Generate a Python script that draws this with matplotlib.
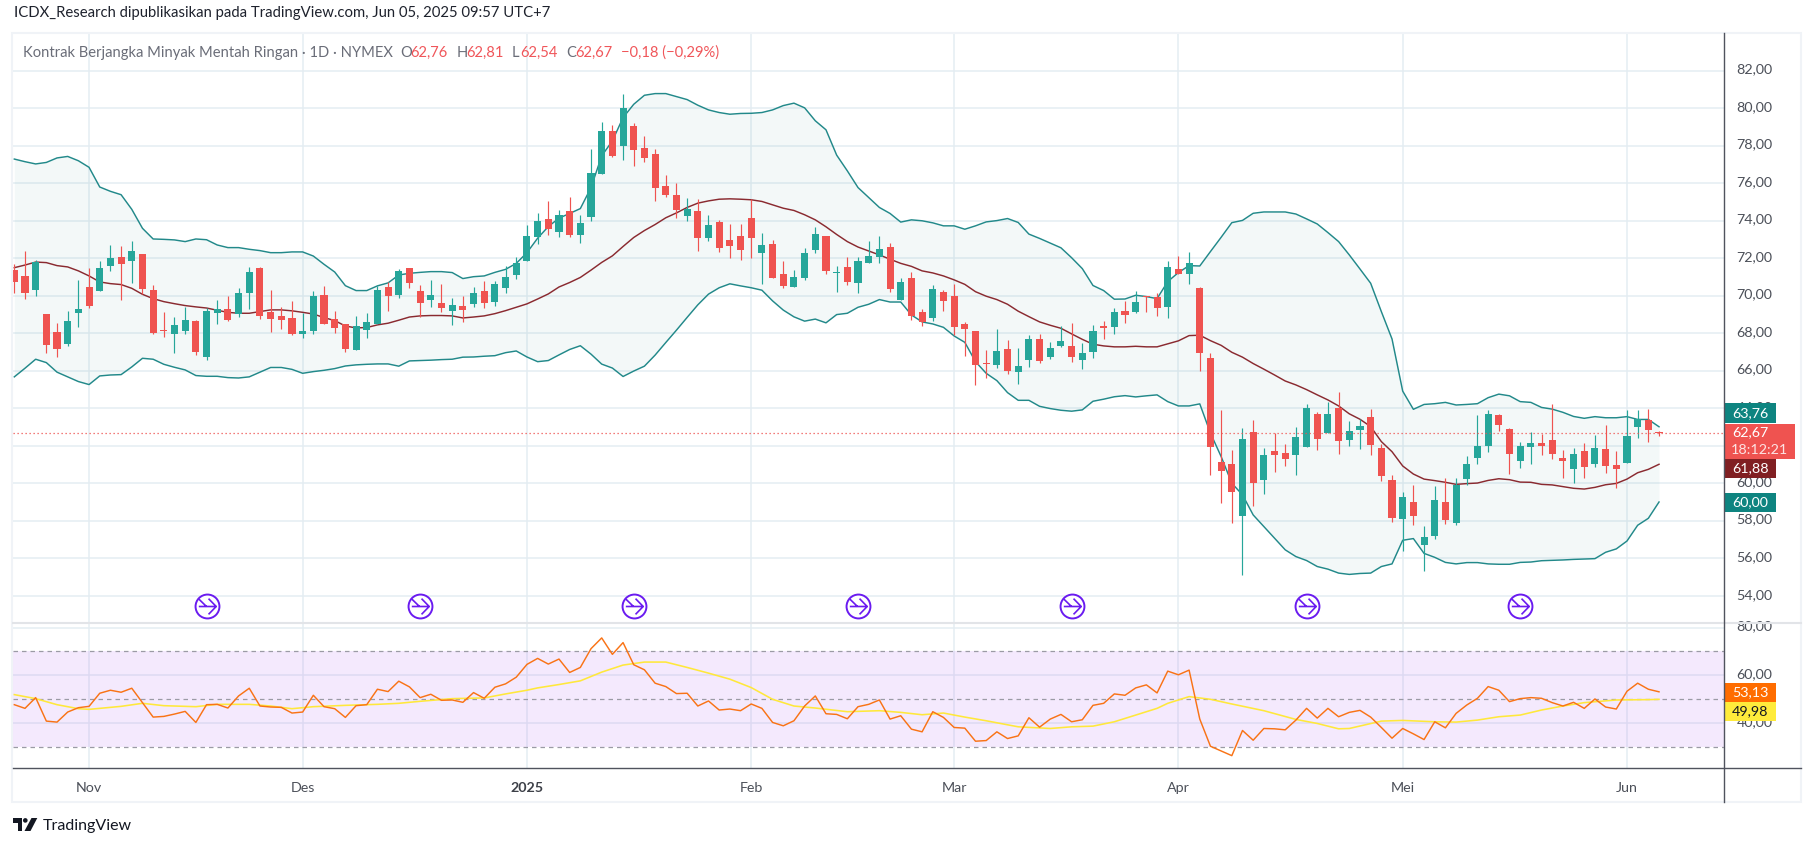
import matplotlib
matplotlib.use("Agg")
import matplotlib.pyplot as plt
from matplotlib.transforms import Affine2D, ScaledTranslation
from matplotlib.patches import Rectangle, Polygon, Circle
from matplotlib.lines import Line2D
from matplotlib.path import Path

W, H = 1814, 847
FONT = ["Lato", "DejaVu Sans"]
plt.rcParams["font.family"] = FONT

opens = [71.36,71.04,70.30,69.02,68.06,67.42,69.07,70.45,70.24,71.57,
72.05,71.84,72.21,70.30,68.16,67.95,68.11,68.64,66.73,69.07,
69.28,69.02,70.14,71.47,69.12,68.91,68.82,67.97,68.13,70.05,
68.77,68.50,67.12,68.18,68.50,70.47,70.05,71.48,70.26,69.78,
69.62,69.19,69.46,69.57,70.26,69.67,70.42,71.11,71.86,73.14,
74.10,73.38,74.53,73.25,74.21,76.50,78.79,78.00,79.06,77.89,
77.57,75.86,75.38,74.26,74.53,73.09,73.94,72.98,73.20,74.16,
72.29,72.77,71.17,70.48,70.96,72.45,73.20,71.23,71.54,70.69,
71.75,72.07,72.60,69.78,70.95,69.14,68.82,70.21,69.99,68.50,
68.13,66.42,66.32,67.17,65.94,66.58,67.70,66.74,67.33,67.33,
66.58,67.01,68.39,68.34,69.19,69.14,69.99,69.94,69.41,71.43,
71.17,70.42,66.69,61.15,61.04,58.27,62.75,60.19,61.73,61.63,
61.52,61.95,63.71,62.69,64.03,62.32,62.85,63.55,61.89,60.18,
58.10,59.01,56.72,57.20,59.01,57.89,60.23,61.35,61.99,63.64,
62.90,61.19,61.94,62.15,62.31,61.35,60.77,61.73,61.03,61.83,
60.98,61.09,63.01,63.38,62.76]
closes = [70.72,70.14,71.82,67.38,67.15,68.64,69.28,69.44,71.47,72.00,
71.68,72.37,70.35,68.00,68.11,68.43,68.70,66.99,69.18,69.28,
68.70,70.14,71.25,68.91,68.75,68.70,67.97,68.13,69.99,68.50,
68.29,67.17,68.39,68.61,70.31,69.99,71.33,70.69,69.62,70.05,
69.35,69.51,69.25,70.15,69.62,70.63,71.01,71.75,73.19,73.99,
73.56,74.31,73.25,73.89,76.55,78.79,77.46,80.02,77.78,77.35,
75.76,75.38,74.58,74.64,73.09,73.78,72.56,72.67,72.45,73.09,
72.72,70.96,70.53,71.01,72.29,73.30,71.33,71.28,70.74,71.86,
72.12,72.50,70.37,70.74,68.93,68.61,70.37,69.73,68.34,68.23,
66.32,66.37,67.06,66.00,66.26,67.70,66.53,67.22,67.60,66.74,
66.96,68.13,68.29,69.14,68.98,69.67,69.94,69.35,71.54,71.17,
71.75,66.96,61.95,60.67,59.55,62.37,60.03,61.52,61.52,61.31,
62.49,64.03,62.37,63.71,62.27,62.80,63.07,62.05,60.40,58.16,
59.28,58.26,57.14,59.12,58.05,59.92,61.03,61.99,63.70,63.11,
61.57,61.99,62.15,61.99,61.57,61.19,61.57,60.87,61.89,60.93,
60.77,62.53,63.43,62.85,62.67]
highs = [71.72,72.37,71.93,69.02,68.54,69.18,70.83,71.47,71.84,72.69,
72.64,72.91,72.25,70.56,69.12,68.86,69.41,68.70,69.35,69.76,
69.98,70.40,71.52,71.52,70.30,69.39,69.73,69.07,70.26,70.53,
69.19,68.50,68.93,69.09,70.53,70.72,71.43,71.48,70.58,70.85,
70.63,69.89,69.99,70.47,70.79,70.77,71.59,72.05,73.78,74.40,
75.06,74.58,75.28,74.32,77.83,79.27,79.11,80.76,79.22,78.53,
77.83,76.45,76.02,75.22,75.17,74.32,74.05,73.84,73.84,75.17,
73.36,72.98,71.87,71.39,72.56,73.68,73.20,71.60,72.07,72.07,
72.92,73.19,72.82,70.95,71.27,69.30,70.58,70.31,70.63,68.61,
68.13,67.12,68.23,67.65,67.22,67.92,67.97,67.54,68.39,68.55,
67.49,68.45,68.66,69.35,69.73,70.26,69.99,70.15,71.86,72.12,
72.34,70.47,66.96,63.92,61.79,62.96,63.39,61.89,62.69,62.11,
63.02,64.24,63.81,64.35,64.88,63.34,63.42,63.98,62.11,60.45,
59.54,59.92,57.73,59.86,60.29,60.29,61.46,63.64,63.91,63.70,
62.95,62.21,62.74,62.63,64.23,61.78,61.89,62.15,62.58,63.11,
61.73,63.91,63.91,63.96,62.81]
lows = [70.14,69.83,69.99,66.94,66.73,67.31,68.32,69.35,70.24,71.31,
69.76,70.67,70.08,67.95,67.79,66.94,67.95,66.83,66.57,68.48,
68.64,68.86,69.28,68.75,68.06,68.22,67.92,67.76,67.97,68.50,
68.02,67.01,67.12,67.76,68.50,69.19,69.89,70.42,68.87,69.41,
69.14,68.45,68.61,69.41,69.35,69.46,70.15,70.90,71.86,72.76,
73.24,73.14,73.14,72.82,74.00,76.50,77.41,77.25,76.93,77.14,
75.06,75.28,74.16,74.00,72.40,72.93,72.35,72.03,71.92,72.03,
70.64,70.96,70.43,70.48,70.85,72.29,71.17,70.21,70.58,70.15,
71.75,71.75,70.21,69.78,68.71,68.39,68.66,69.19,67.92,66.80,
65.25,65.62,66.16,65.84,65.30,66.21,66.42,66.64,67.28,66.48,
66.10,66.69,67.70,67.97,68.55,69.09,69.14,68.93,68.82,71.17,
70.63,66.00,60.46,58.96,57.89,55.13,58.81,59.44,60.62,60.94,
60.46,61.95,61.79,62.69,61.57,62.00,61.84,61.52,60.14,57.94,
56.40,57.78,55.33,57.04,57.84,57.78,59.92,61.03,61.67,62.79,
60.50,60.82,61.03,61.51,61.30,60.29,60.02,60.29,60.87,60.55,
59.76,61.09,62.42,62.21,62.54]

bb_upper = [77.29,77.15,77.03,77.11,77.35,77.43,77.20,76.85,75.80,75.57,
75.39,74.61,73.60,73.03,73.01,72.98,72.89,73.03,72.99,72.71,
72.57,72.57,72.48,72.41,72.30,72.30,72.34,72.34,72.12,71.68,
71.27,70.54,70.28,70.28,70.53,70.69,71.11,71.20,71.25,71.29,
71.29,71.24,70.92,71.02,71.06,71.25,71.41,71.73,72.30,73.07,
73.69,74.14,74.39,74.65,75.77,77.46,78.26,79.50,80.21,80.69,
80.78,80.78,80.62,80.46,80.16,79.91,79.77,79.68,79.72,79.73,
79.77,79.91,80.14,80.27,80.02,79.33,78.85,77.50,76.66,75.77,
75.24,74.71,74.39,73.93,74.05,74.00,73.89,73.73,73.73,73.55,
73.73,73.94,74.01,74.12,73.91,73.29,73.06,72.81,72.56,72.03,
71.45,70.55,70.28,69.82,69.83,70.03,69.96,69.85,70.76,71.24,
71.61,71.59,72.36,73.12,73.90,74.02,74.40,74.47,74.47,74.47,
74.36,74.10,73.83,73.37,72.89,72.18,71.43,70.67,69.16,67.70,
64.92,63.95,64.21,64.25,64.32,64.18,64.21,64.25,64.57,64.76,
64.67,64.36,64.32,64.05,63.96,63.79,63.57,63.47,63.56,63.50,
63.50,63.56,63.41,63.41,63.02]
bb_middle = [71.50,71.64,71.80,71.77,71.61,71.54,71.33,71.06,70.74,70.65,
70.60,70.40,70.08,69.85,69.69,69.58,69.48,69.41,69.35,69.23,
69.12,69.07,69.07,69.16,69.25,69.25,69.20,69.12,69.03,68.84,
68.68,68.39,68.29,68.31,68.45,68.54,68.70,68.87,68.93,68.95,
68.95,68.93,68.82,68.87,68.93,69.05,69.21,69.39,69.57,69.83,
70.10,70.47,70.71,70.98,71.37,71.78,72.13,72.63,73.11,73.48,
73.80,74.16,74.42,74.71,74.94,75.06,75.15,75.17,75.15,75.12,
75.03,74.85,74.67,74.55,74.32,74.05,73.68,73.27,72.89,72.60,
72.39,72.18,71.95,71.73,71.57,71.33,71.22,71.06,70.85,70.61,
70.22,69.98,69.80,69.55,69.18,68.89,68.61,68.43,68.27,67.97,
67.68,67.42,67.33,67.28,67.28,67.31,67.28,67.28,67.44,67.60,
67.88,67.90,67.61,67.36,66.99,66.73,66.39,66.09,65.78,65.46,
65.25,65.00,64.72,64.45,64.13,63.71,63.42,63.03,62.23,61.69,
60.93,60.50,60.23,60.15,60.06,59.95,59.99,60.02,60.16,60.25,
60.20,60.07,60.06,59.95,59.92,59.83,59.74,59.70,59.79,59.93,
60.00,60.23,60.57,60.75,61.02]
bb_lower = [65.68,66.14,66.62,66.44,65.93,65.68,65.43,65.27,65.73,65.78,
65.80,66.21,66.67,66.62,66.35,66.19,66.05,65.75,65.71,65.71,
65.64,65.62,65.68,65.93,66.18,66.18,66.08,65.87,65.96,66.03,
66.12,66.26,66.32,66.35,66.37,66.37,66.25,66.53,66.55,66.57,
66.60,66.62,66.73,66.74,66.78,66.81,66.97,67.06,66.74,66.49,
66.55,66.85,67.14,67.34,66.89,66.36,66.15,65.70,65.99,66.25,
66.84,67.51,68.17,68.85,69.52,70.09,70.43,70.64,70.53,70.43,
70.30,69.73,69.24,68.88,68.65,68.76,68.56,69.00,69.07,69.39,
69.55,69.80,69.67,69.67,68.98,68.61,68.50,68.32,67.86,67.52,
66.49,65.87,65.48,64.84,64.43,64.43,64.11,63.99,63.90,63.85,
63.92,64.38,64.49,64.62,64.68,64.61,64.67,64.72,64.36,64.13,
64.13,64.24,62.68,61.43,60.01,59.39,58.32,57.70,57.08,56.46,
56.10,55.89,55.57,55.43,55.22,55.15,55.20,55.22,55.57,55.71,
56.97,57.06,56.27,56.06,55.79,55.71,55.78,55.78,55.71,55.69,
55.69,55.79,55.81,55.88,55.90,55.92,55.95,55.97,55.99,56.33,
56.51,56.93,57.77,58.14,59.01]

rsi = [47.75,46.21,50.70,40.88,40.46,44.67,46.49,47.05,52.53,53.79,
52.95,54.63,48.60,42.56,42.84,43.82,44.95,40.32,47.75,47.89,
46.35,51.40,54.63,47.19,46.77,46.63,44.25,44.67,51.68,46.91,
46.07,42.42,47.33,47.75,54.21,53.23,57.58,55.19,50.70,52.11,
49.58,49.72,48.74,52.81,50.42,55.05,56.46,59.26,64.60,67.12,
64.74,66.84,61.23,63.33,71.19,75.68,68.81,73.72,64.46,62.35,
56.74,55.33,52.39,52.53,47.19,49.30,45.51,45.93,45.23,48.04,
46.21,40.32,38.91,41.02,47.19,51.40,43.96,43.68,41.86,46.91,
47.89,49.72,41.72,43.12,37.51,36.39,44.81,42.42,38.21,37.93,
32.46,32.74,36.39,33.58,34.70,42.28,38.35,41.72,43.68,40.60,
41.44,47.47,48.32,52.25,51.68,54.77,56.04,52.67,61.79,60.25,
62.21,41.72,30.35,28.39,26.42,36.95,32.88,37.79,37.65,37.23,
41.30,46.21,42.14,46.21,42.70,44.53,45.37,42.56,38.21,33.72,
37.79,35.54,33.16,40.60,38.07,44.11,47.61,50.42,55.33,53.79,
49.02,50.28,50.70,50.42,48.60,47.19,48.74,46.21,50.14,46.77,
45.93,53.37,56.74,54.21,53.13]
rsi_ma_idx = [0,2,4,6,7,10,12,14,17,19,22,24,26,28,31,34,36,38,41,44,46,48,49,51,53,55,57,59,61,63,65,67,69,71,73,75,78,81,
83,85,87,89,91,94,97,99,101,103,105,107,108,110,112,114,117,120,122,124,125,128,130,133,135,137,139,141,143,145,147,150,153,154]
rsi_ma = [51.96,50.28,47.75,46.07,45.79,47.05,48.32,47.33,46.91,47.89,47.89,47.19,46.07,46.91,47.47,47.89,48.32,49.16,50.28,50.56,52.25,53.79,54.77,56.18,57.72,61.37,64.32,65.58,65.58,63.33,60.95,58.42,54.91,50.00,47.19,46.35,44.81,45.23,
44.53,43.54,44.25,42.56,41.02,38.49,37.79,38.49,38.77,40.60,43.40,46.21,48.32,51.12,50.00,48.04,45.23,41.58,39.89,37.65,37.79,40.88,41.16,40.60,40.46,41.30,42.70,43.40,45.51,47.19,48.60,49.72,49.86,49.98]

month_idx = [7, 27, 48, 69, 88, 109, 130, 151]
month_labels = ["Nov", "Des", "2025", "Feb", "Mar", "Apr", "Mei", "Jun"]
price_ticks = [54, 56, 58, 60, 62, 64, 66, 68, 70, 72, 74, 76, 78, 80, 82]
rsi_ticks = [40, 60, 80]
rsi_levels = [70, 50, 30]
event_idx = [18, 38, 58, 79, 99, 121, 141]
event_price = 53.47
last_close = 62.67

UP, DOWN = "#26a69a", "#ef5350"
GRID = "#e4edf2"
PX = Affine2D().scale(1, -1).translate(0, H)

L, R = 13.4, 1724.0
P_TOP, P_BOT = 33.0, 623.0
R_TOP, R_BOT = 624.0, 768.0
X0, DX = 14.3, 10.68


def comma(v):
    return f"{v:.2f}".replace(".", ",")


fig = plt.figure(figsize=(W / 100, H / 100), dpi=100, facecolor="white")


def add_ax(top, bot):
    return fig.add_axes([L / W, 1 - bot / H, (R - L) / W, (bot - top) / H])


ax = add_ax(P_TOP, P_BOT)
ar = add_ax(R_TOP, R_BOT)
xlim = ((L - X0) / DX, (R - X0) / DX)
for a in (ax, ar):
    a.set_xlim(*xlim)
    for s in a.spines.values():
        s.set_visible(False)
    a.set_axisbelow(True)
    a.set_xticks(month_idx)
    a.grid(True, color=GRID, lw=1.1)
    a.yaxis.tick_right()
    a.tick_params(length=0, labelsize=10.3, labelcolor="#4c5059", pad=9)

# price pane
ax.set_ylim(72 - (P_BOT - 258.3) / 18.76, 72 + (258.3 - P_TOP) / 18.76)
ax.set_yticks(price_ticks)
# 62,00 lies wholly under the last-price tag in the reference
ax.set_yticklabels(["" if v == 62 else comma(v) for v in price_ticks])
ax.tick_params(labelbottom=False)
x = list(range(len(closes)))
ax.fill_between(x, bb_lower, bb_upper, color="#2a8f8c", alpha=0.055, lw=0, zorder=1.5)
ax.plot(x, bb_upper, color="#22898a", lw=1.05, zorder=2)
ax.plot(x, bb_lower, color="#22898a", lw=1.05, zorder=2)
ax.plot(x, bb_middle, color="#8a2a30", lw=1.05, zorder=2)
colors = [UP if c >= o else DOWN for o, c in zip(opens, closes)]
ax.vlines(x, lows, highs, colors=colors, lw=0.85, zorder=3)
ax.bar(x, [max(abs(c - o), 0.06) for o, c in zip(opens, closes)],
       bottom=[min(o, c) for o, c in zip(opens, closes)],
       width=0.66, color=colors, lw=0, zorder=3.5)
ax.axhline(last_close, color=DOWN, lw=0.9, ls=(0, (1, 2.2)), zorder=4)

mark = Path([(-0.42, 0.0), (0.42, 0.0), (0.05, 0.38), (0.42, 0.0), (0.05, -0.38),
             (-0.42, 0.36), (-0.05, 0.0)],
            [Path.MOVETO, Path.LINETO, Path.MOVETO, Path.LINETO, Path.LINETO,
             Path.MOVETO, Path.LINETO])
ax.plot(event_idx, [event_price] * len(event_idx), ls="none", marker="o", ms=17.2,
        mfc="white", mec="#6a1bf0", mew=1.4, zorder=6)
ax.plot(event_idx, [event_price] * len(event_idx), ls="none", marker=mark, ms=12.5,
        mfc="none", mec="#6a1bf0", mew=1.2, zorder=7)


def tag(a, x0, x1, y0, y1, color, label, tcolor="white", weight="normal"):
    a.add_patch(Rectangle((x0, y0), x1 - x0, y1 - y0, transform=PX, fc=color, ec="none",
                          clip_on=False, zorder=10))
    a.text((x0 + 1776) / 2 + 0.5, (y0 + y1) / 2, label, transform=PX, color=tcolor, fontsize=10.3,
           ha="center", va="center", clip_on=False, zorder=11, fontweight=weight)


tag(ax, 1724, 1776, 403, 423, "#0e8480", "63,76")
tag(ax, 1724, 1795, 424, 459, "#ef5350", "")
ax.text(1750.5, 432.5, "62,67", transform=PX, color="white", fontsize=10.3, ha="center", va="center",
        clip_on=False, zorder=11)
ax.text(1759.5, 449.5, "18:12:21", transform=PX, color="#fde3e3", fontsize=10.3, ha="center", va="center",
        clip_on=False, zorder=11)
tag(ax, 1724, 1776, 459, 478, "#801f22", "61,88")
tag(ax, 1724, 1776, 493, 512, "#0e8480", "60,00")

# RSI pane
ar.set_ylim(50 - (R_BOT - 699.3) / 2.39, 50 + (699.3 - R_TOP) / 2.39)
ar.set_yticks(rsi_ticks)
ar.set_yticklabels([comma(v) for v in rsi_ticks])
ar.axhspan(min(rsi_levels), max(rsi_levels), color="#b35cf2", alpha=0.135, lw=0, zorder=1.5)
for lv in rsi_levels:
    ar.axhline(lv, color="#9b9ba5", lw=0.9, ls=(0, (3.6, 3.2)), zorder=2)
ar.plot(rsi_ma_idx, rsi_ma, color="#ffe83b", lw=1.15, zorder=3)
ar.plot(x, rsi, color="#f97316", lw=1.05, zorder=4)
ar.set_xticklabels(month_labels)
ar.tick_params(axis="x", pad=10, labelsize=10.3)
for t, lab in zip(ar.get_xticklabels(), month_labels):
    if lab == "2025":
        t.set_fontweight("bold")
        t.set_color("#3d4048")
tag(ar, 1724, 1776, 683, 702, "#ff6d00", "53,13")
tag(ar, 1724, 1776, 702, 721, "#ffeb3b", "49,98", tcolor="#131722")

# right-axis labels sit about 2 px above their gridlines
lift = ScaledTranslation(0, 2.3 / 100, fig.dpi_scale_trans)
for a in (ax, ar):
    for t in a.get_yticklabels():
        t.set_transform(t.get_transform() + lift)

# frame and axis rules
fig.add_artist(Rectangle((12.4, 33), 1788.6, 769, transform=PX, fc="none", ec="#f0f3f7", lw=1.5))
fig.add_artist(Line2D([L, 1801], [623, 623], transform=PX, color="#e2e4e8", lw=1.5))
fig.add_artist(Line2D([L, 1801], [768, 768], transform=PX, color="#50535e", lw=1.0))
fig.add_artist(Line2D([R, R], [33, 802], transform=PX, color="#50535e", lw=1.0))

# header and legend
fig.text(13.5, 13, "ICDX_Research dipublikasikan pada TradingView.com, Jun 05, 2025 09:57 UTC+7",
         transform=PX, fontsize=10.75, color="#1e222d", va="center")
GREY, RED = "#6a6d78", "#f0565a"
legend_parts = [(23, "Kontrak Berjangka Minyak Mentah Ringan · 1D · NYMEX", GREY),
                (400, "O", GREY), (410, "62,76", RED), (457, "H", GREY), (466, "62,81", RED),
                (512, "L", GREY), (520, "62,54", RED), (566, "C", GREY), (575, "62,67", RED),
                (621, "−0,18 (−0,29%)", RED)]
for px_x, s, c in legend_parts:
    fig.text(px_x, 53, s, transform=PX, fontsize=10.65, color=c, va="center")

# TradingView mark
fig.add_artist(Polygon([(12.6, 818), (22, 818), (22, 831), (17.5, 831), (17.5, 822.5), (12.6, 822.5)],
                       closed=True, transform=PX, fc="#131722", ec="none"))
fig.add_artist(Circle((25.3, 820.4), 2.3, transform=PX, fc="#131722", ec="none"))
fig.add_artist(Polygon([(31.5, 818), (37.3, 818), (30.5, 831), (24.5, 831)],
                       closed=True, transform=PX, fc="#131722", ec="none"))
fig.text(42.5, 825.5, "TradingView", transform=PX, fontsize=11.5, color="#131722", va="center")

fig.savefig("out.png", dpi=100, facecolor="white")
